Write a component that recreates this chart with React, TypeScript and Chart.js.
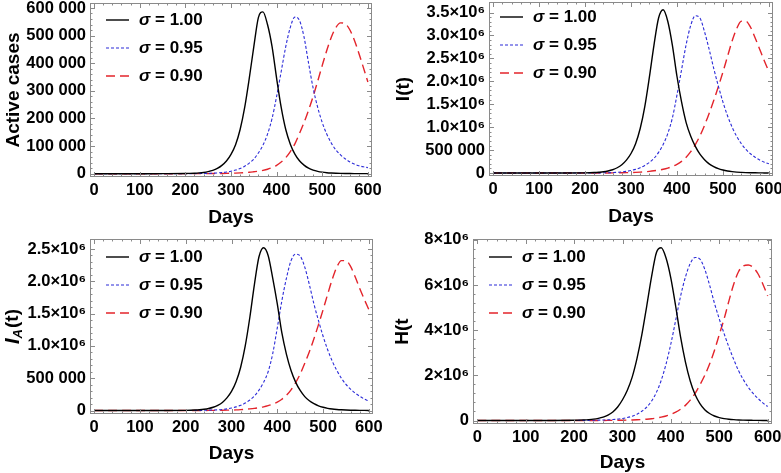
import { Chart, registerables } from "chart.js";
import type { ChartConfiguration, Plugin } from "chart.js";
import { useEffect, useRef } from "react";

Chart.register(...registerables);

const W = 781;
const H = 473;
const FONT = '"Liberation Sans", Arial, sans-serif';

// sample days: sparse while everything is flat, every 10 days afterwards
const days = [
  0, 50, 100, 150,
  200, 210, 220, 230, 240, 250, 260, 270, 280, 290,
  300, 310, 320, 330, 340, 350, 360, 370, 380, 390,
  400, 410, 420, 430, 440, 450, 460, 470, 480, 490,
  500, 510, 520, 530, 540, 550, 560, 570, 580, 590,
  600,
];

const sigmaLabels = ["1.00", "0.95", "0.90"];

// Active cases
const activeS100 = [
  0, 0, 0, 100,
  600, 1000, 1700, 2800, 4500, 7500, 12000, 19000, 30000, 46000,
  70000, 105000, 160000, 240000, 345000, 460000, 565000, 586000, 540000, 460000,
  345000, 240000, 160000, 107000, 71000, 47000, 31000, 20000, 13000, 8500,
  5500, 3500, 2300, 1500, 1000, 650, 450, 300, 200, 130,
  90,
];
const activeS095 = [
  0, 0, 0, 0,
  100, 200, 300, 500, 800, 1200, 1800, 2700, 4000, 6000,
  9000, 13000, 19000, 27000, 38000, 53000, 75000, 103000, 143000, 200000,
  280000, 370000, 460000, 530000, 567000, 555000, 495000, 400000, 310000, 240000,
  185000, 143000, 110000, 86000, 68000, 54000, 43000, 35000, 29000, 25000,
  22000,
];
const activeS090 = [
  0, 0, 0, 0,
  50, 80, 120, 180, 250, 350, 500, 700, 900, 1200,
  1600, 2200, 3000, 4000, 5200, 7000, 9000, 12000, 16000, 22000,
  30000, 42000, 58000, 80000, 108000, 145000, 185000, 230000, 280000, 335000,
  392000, 447000, 495000, 530000, 546000, 543000, 522000, 485000, 437000, 385000,
  332000,
];

// I(t)
const infS100 = [
  0, 0, 0, 600,
  3600, 6000, 10000, 17000, 27000, 45000, 72000, 115000, 180000, 280000,
  425000, 640000, 970000, 1450000, 2090000, 2790000, 3380000, 3560000, 3310000, 2790000,
  2110000, 1550000, 1100000, 800000, 580000, 410000, 290000, 200000, 140000, 95000,
  65000, 44000, 30000, 20000, 14000, 9500, 6500, 4500, 3000, 2000,
  1400,
];
const infS095 = [
  0, 0, 0, 0,
  600, 1200, 1800, 3000, 4800, 7200, 11000, 16000, 24000, 36000,
  55000, 80000, 115000, 165000, 230000, 320000, 450000, 620000, 860000, 1200000,
  1700000, 2250000, 2800000, 3220000, 3430000, 3380000, 3080000, 2700000, 2280000, 1900000,
  1550000, 1250000, 1000000, 800000, 640000, 515000, 420000, 345000, 285000, 235000,
  200000,
];
const infS090 = [
  0, 0, 0, 0,
  300, 450, 650, 1000, 1400, 2000, 3000, 4200, 5800, 8000,
  11000, 15000, 20000, 27000, 36000, 48000, 63000, 82000, 108000, 142000,
  190000, 255000, 345000, 465000, 620000, 810000, 1040000, 1300000, 1580000, 1880000,
  2200000, 2540000, 2880000, 3150000, 3310000, 3310000, 3180000, 2950000, 2700000, 2450000,
  2210000,
];

// I_A(t)
const asymS100 = [
  0, 0, 0, 400,
  2500, 4000, 6800, 11500, 19000, 31000, 50000, 80000, 125000, 195000,
  295000, 445000, 670000, 1000000, 1440000, 1950000, 2380000, 2520000, 2400000, 2050000,
  1650000, 1200000, 870000, 620000, 440000, 310000, 215000, 150000, 105000, 72000,
  50000, 34000, 23000, 16000, 11000, 7500, 5000, 3500, 2400, 1600,
  1100,
];
const asymS095 = [
  0, 0, 0, 0,
  400, 800, 1300, 2100, 3300, 5000, 7500, 11000, 17000, 25000,
  38000, 56000, 80000, 115000, 162000, 225000, 315000, 435000, 600000, 880000,
  1280000, 1700000, 2050000, 2320000, 2420000, 2390000, 2220000, 1950000, 1650000, 1390000,
  1150000, 940000, 765000, 620000, 500000, 405000, 330000, 270000, 220000, 178000,
  145000,
];
const asymS090 = [
  0, 0, 0, 0,
  200, 300, 450, 650, 950, 1350, 2000, 2800, 3900, 5400,
  7500, 10000, 14000, 19000, 25000, 33000, 44000, 57000, 75000, 98000,
  130000, 175000, 235000, 320000, 430000, 565000, 730000, 910000, 1110000, 1330000,
  1560000, 1800000, 2030000, 2220000, 2320000, 2320000, 2230000, 2070000, 1890000, 1720000,
  1560000,
];

// H(t)
const hospS100 = [
  0, 0, 0, 2000,
  12000, 18000, 27000, 40000, 60000, 95000, 150000, 240000, 380000, 600000,
  920000, 1340000, 1920000, 2750000, 3800000, 5060000, 6360000, 7430000, 7650000, 7200000,
  6300000, 5050000, 3700000, 2600000, 1750000, 1150000, 750000, 480000, 310000, 200000,
  130000, 85000, 56000, 37000, 24000, 16000, 10000, 7000, 4500, 3000,
  2000,
];
const hospS095 = [
  0, 0, 0, 0,
  2500, 3500, 5000, 7000, 10000, 15000, 21000, 30000, 43000, 62000,
  90000, 130000, 190000, 280000, 410000, 590000, 860000, 1240000, 1780000, 2500000,
  3400000, 4450000, 5500000, 6350000, 6950000, 7220000, 7150000, 6700000, 6000000, 5200000,
  4500000, 3850000, 3250000, 2700000, 2200000, 1800000, 1470000, 1200000, 980000, 780000,
  620000,
];
const hospS090 = [
  0, 0, 0, 0,
  350, 500, 700, 1000, 1400, 2000, 2800, 4000, 5500, 8000,
  11000, 16000, 22000, 30000, 42000, 58000, 80000, 110000, 150000, 200000,
  270000, 370000, 500000, 670000, 900000, 1200000, 1580000, 2000000, 2500000, 3100000,
  3800000, 4500000, 5300000, 6050000, 6600000, 6850000, 6890000, 6780000, 6500000, 6050000,
  5520000,
];

// tick values and their labels
const dayTicks = [0, 100, 200, 300, 400, 500, 600];
const dayTickLabels = ["0", "100", "200", "300", "400", "500", "600"];

const activeTicks = [0, 100000, 200000, 300000, 400000, 500000, 600000];
const activeTickLabels = ["0", "100 000", "200 000", "300 000", "400 000", "500 000", "600 000"];

const infTicks = [0, 500000, 1000000, 1500000, 2000000, 2500000, 3000000, 3500000];
const infTickLabels = ["0", "500 000", "1.0×10⁶", "1.5×10⁶", "2.0×10⁶", "2.5×10⁶", "3.0×10⁶", "3.5×10⁶"];

const asymTicks = [0, 500000, 1000000, 1500000, 2000000, 2500000];
const asymTickLabels = ["0", "500 000", "1.0×10⁶", "1.5×10⁶", "2.0×10⁶", "2.5×10⁶"];

const hospTicks = [0, 2000000, 4000000, 6000000, 8000000];
const hospTickLabels = ["0", "2×10⁶", "4×10⁶", "6×10⁶", "8×10⁶"];

const seriesColors = ["#000000", "#2b2bd8", "#e3242b"];
const seriesDash = [[], [3, 2], [9, 5]];
const seriesWidth = [1.4, 1.1, 1.4];

const FRAME = "#8a8a8a";
const TICK_SIZE = 16.5;
const TITLE_SIZE = 19;
const LEGEND_SIZE = 17;

type Panel = {
  area: { left: number; top: number; right: number; bottom: number };
  yMin: number;
  yMax: number;
  yTicks: number[];
  yTickLabels: string[];
  yTitle: string;
  ySub?: [string, string, string];
  yTitleX: number;
  daysY: number;
  legendAt: { x: number; y: number };
  series: number[][];
};

const panels: Panel[] = [
  {
    area: { left: 90, top: 3, right: 372, bottom: 177 },
    yMin: -12000, yMax: 618000,
    yTicks: activeTicks, yTickLabels: activeTickLabels,
    yTitle: "Active cases", yTitleX: 14, daysY: 218,
    legendAt: { x: 106, y: 20 },
    series: [activeS100, activeS095, activeS090],
  },
  {
    area: { left: 489, top: 2, right: 773, bottom: 176 },
    yMin: -65000, yMax: 3729000,
    yTicks: infTicks, yTickLabels: infTickLabels,
    yTitle: "I(t)", yTitleX: 404, daysY: 217,
    legendAt: { x: 500, y: 17 },
    series: [infS100, infS095, infS090],
  },
  {
    area: { left: 90, top: 239, right: 373, bottom: 414 },
    yMin: -54000, yMax: 2655000,
    yTicks: asymTicks, yTickLabels: asymTickLabels,
    yTitle: "", ySub: ["I", "A", "(t)"], yTitleX: 13, daysY: 454,
    legendAt: { x: 106, y: 257 },
    series: [asymS100, asymS095, asymS090],
  },
  {
    area: { left: 473, top: 239, right: 772, bottom: 424 },
    yMin: -155000, yMax: 8040000,
    yTicks: hospTicks, yTickLabels: hospTickLabels,
    yTitle: "H(t", yTitleX: 403, daysY: 463,
    legendAt: { x: 489, y: 257 },
    series: [hospS100, hospS095, hospS090],
  },
];

// frame with inward major/minor ticks on all four sides
const framePlugin: Plugin<"line"> = {
  id: "frameTicks",
  afterDatasetsDraw(chart) {
    const { ctx, chartArea: a } = chart;
    const xs = chart.scales.x;
    const ys = chart.scales.y;
    ctx.save();
    ctx.strokeStyle = FRAME;
    ctx.lineWidth = 1;
    ctx.strokeRect(a.left + 0.5, a.top + 0.5, a.right - a.left - 1, a.bottom - a.top - 1);
    const line = (x1: number, y1: number, x2: number, y2: number) => {
      ctx.beginPath();
      ctx.moveTo(x1, y1);
      ctx.lineTo(x2, y2);
      ctx.stroke();
    };
    const withMinor = (vals: number[]) => {
      const out: { v: number; major: boolean }[] = [];
      vals.forEach((v, i) => {
        out.push({ v, major: true });
        if (i < vals.length - 1) {
          const step = (vals[i + 1] - v) / 5;
          for (let k = 1; k < 5; k++) out.push({ v: v + k * step, major: false });
        }
      });
      return out;
    };
    withMinor(xs.ticks.map((t) => t.value)).forEach(({ v, major }) => {
      const px = Math.round(xs.getPixelForValue(v)) + 0.5;
      const len = major ? 5 : 2.5;
      line(px, a.bottom, px, a.bottom - len);
      line(px, a.top, px, a.top + len);
    });
    withMinor(ys.ticks.map((t) => t.value)).forEach(({ v, major }) => {
      const py = Math.round(ys.getPixelForValue(v)) + 0.5;
      const len = major ? 5 : 2.5;
      line(a.left, py, a.left + len, py);
      line(a.right, py, a.right - len, py);
    });
    ctx.restore();
  },
};

// legend inside the plot, drawn from the datasets
const legendAt = (x: number, y: number): Plugin<"line"> => ({
  id: "innerLegend",
  afterDraw(chart) {
    const { ctx } = chart;
    ctx.save();
    chart.data.datasets.forEach((ds: any, i: number) => {
      const ry = y + i * 28;
      ctx.strokeStyle = ds.borderColor;
      ctx.lineWidth = ds.borderWidth;
      ctx.setLineDash(ds.borderDash || []);
      ctx.beginPath();
      ctx.moveTo(x, ry);
      ctx.lineTo(x + 23, ry);
      ctx.stroke();
      ctx.setLineDash([]);
      ctx.fillStyle = "#000";
      ctx.textBaseline = "middle";
      ctx.textAlign = "left";
      ctx.font = `italic bold ${LEGEND_SIZE}px ${FONT}`;
      const tx = x + 33;
      ctx.fillText("σ", tx, ry);
      const sw = ctx.measureText("σ").width;
      ctx.font = `bold ${LEGEND_SIZE}px ${FONT}`;
      ctx.fillText(` = ${ds.label}`, tx + sw, ry);
    });
    ctx.restore();
  },
});

// y title with a subscript (I_A(t))
const subTitle = (parts: [string, string, string], cx: number): Plugin<"line"> => ({
  id: "subTitle",
  afterDraw(chart) {
    const { ctx, chartArea: a } = chart;
    const cy = (a.top + a.bottom) / 2;
    ctx.save();
    ctx.translate(cx, cy);
    ctx.rotate(-Math.PI / 2);
    ctx.fillStyle = "#000";
    ctx.textBaseline = "middle";
    ctx.textAlign = "left";
    const f1 = `italic bold ${TITLE_SIZE + 1}px ${FONT}`;
    const f2 = `italic bold ${TITLE_SIZE - 6}px ${FONT}`;
    const f3 = `bold ${TITLE_SIZE}px ${FONT}`;
    ctx.font = f1;
    const w1 = ctx.measureText(parts[0]).width;
    ctx.font = f2;
    const w2 = ctx.measureText(parts[1]).width;
    ctx.font = f3;
    const w3 = ctx.measureText(parts[2]).width;
    let x = -(w1 + w2 + w3 + 1) / 2;
    ctx.font = f1;
    ctx.fillText(parts[0], x, 0);
    x += w1;
    ctx.font = f2;
    ctx.fillText(parts[1], x, 5);
    x += w2 + 1;
    ctx.font = f3;
    ctx.fillText(parts[2], x, 0);
    ctx.restore();
  },
});

function makeConfig(p: Panel): ChartConfiguration<"line"> {
  const tickFont = { family: FONT, size: TICK_SIZE, weight: "bold" as const };
  const titleFont = { family: FONT, size: TITLE_SIZE, weight: "bold" as const };
  const lh = TITLE_SIZE * 1.2;
  const xAxisH = p.daysY + lh / 2 - p.area.bottom;
  const padLeft = p.yTitleX - lh / 2;
  const yAxisW = p.area.left - padLeft;
  const plugins: Plugin<"line">[] = [framePlugin, legendAt(p.legendAt.x, p.legendAt.y)];
  if (p.ySub) plugins.push(subTitle(p.ySub, p.yTitleX));

  return {
    type: "line",
    data: {
      datasets: p.series.map((values, i) => ({
        label: sigmaLabels[i],
        data: values.map((v, j) => ({ x: days[j], y: v })),
        borderColor: seriesColors[i],
        borderDash: seriesDash[i],
        borderWidth: seriesWidth[i],
        pointRadius: 0,
        fill: false,
        cubicInterpolationMode: "monotone" as const,
      })),
    },
    options: {
      responsive: false,
      animation: false,
      events: [],
      layout: {
        padding: {
          left: padLeft,
          top: p.area.top,
          right: W - p.area.right,
          bottom: H - p.area.bottom - xAxisH,
        },
      },
      plugins: { legend: { display: false }, tooltip: { enabled: false } },
      scales: {
        x: {
          type: "linear",
          bounds: "data",
          min: -9,
          max: 609,
          afterBuildTicks: (s: any) => {
            s.ticks = dayTicks.map((v) => ({ value: v }));
          },
          afterFit: (s: any) => {
            s.height = xAxisH;
            s.paddingLeft = 0;
            s.paddingRight = 0;
          },
          ticks: {
            callback: (_v: any, i: number) => dayTickLabels[i],
            font: tickFont,
            color: "#000",
            padding: 4,
            maxRotation: 0,
            autoSkip: false,
          },
          grid: { display: false, drawTicks: false },
          border: { display: false },
          title: { display: true, text: "Days", font: titleFont, color: "#000", padding: 0 },
        },
        y: {
          type: "linear",
          bounds: "data",
          min: p.yMin,
          max: p.yMax,
          afterBuildTicks: (s: any) => {
            s.ticks = p.yTicks.map((v) => ({ value: v }));
          },
          afterFit: (s: any) => {
            s.width = yAxisW;
            s.paddingTop = 0;
            s.paddingBottom = 0;
          },
          ticks: {
            callback: (_v: any, i: number) => p.yTickLabels[i],
            font: tickFont,
            color: "#000",
            padding: 4,
            autoSkip: false,
          },
          grid: { display: false, drawTicks: false },
          border: { display: false },
          title: {
            display: p.yTitle !== "",
            text: p.yTitle,
            font: titleFont,
            color: "#000",
            padding: 0,
          },
        },
      },
    },
    plugins,
  };
}

export default function App() {
  const refs = useRef<(HTMLCanvasElement | null)[]>([]);

  useEffect(() => {
    const charts = panels.map((p, i) => new Chart(refs.current[i] as HTMLCanvasElement, makeConfig(p)));
    return () => {
      charts.forEach((c) => c.destroy());
    };
  }, []);

  return (
    <div style={{ position: "absolute", left: 0, top: 0, width: W, height: H, background: "#fff" }}>
      {panels.map((_, i) => (
        <canvas
          key={i}
          ref={(el) => {
            refs.current[i] = el;
          }}
          width={W}
          height={H}
          style={{ position: "absolute", left: 0, top: 0 }}
        />
      ))}
    </div>
  );
}
